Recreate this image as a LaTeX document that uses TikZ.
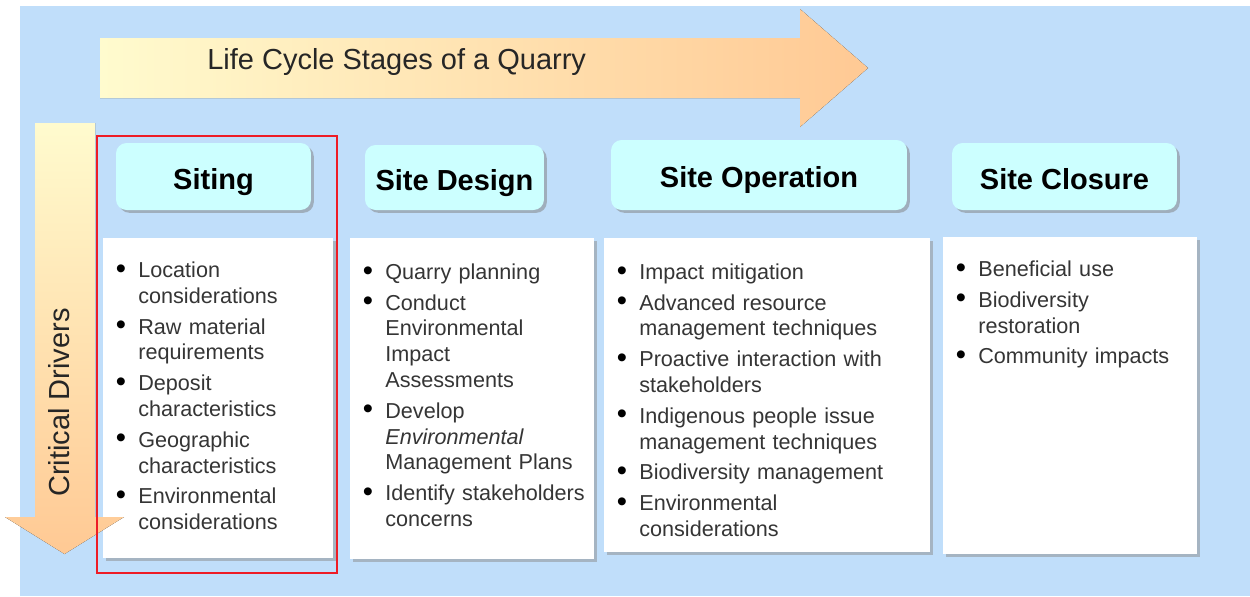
\documentclass[tikz,border=0pt]{standalone}
\usepackage{fontspec}
\setmainfont{Liberation Sans}
\usepackage{enumitem}
\usetikzlibrary{positioning,calc,shadows}

\definecolor{bgblue}{HTML}{C0DEFA}
\definecolor{headcyan}{HTML}{CCFFFF}
\definecolor{paleyellow}{HTML}{FFFBCE}
\definecolor{peach}{HTML}{FFC994}
\definecolor{itemgray}{HTML}{353535}
\definecolor{framered}{HTML}{EE1C25}

\newcommand{\stagelist}[1]{%
  \begin{itemize}[label={\color{black}\raisebox{-0.4pt}{\scalebox{1.35}{\textbullet}}},
    leftmargin=0.7cm,labelsep=7pt,itemsep=2.8pt,parsep=0pt,topsep=0pt,partopsep=0pt]#1\end{itemize}}

\begin{document}
\begin{tikzpicture}[x=0.02cm,y=-0.02cm,
  stagehead/.style={fill=headcyan,rounded corners=6pt,inner sep=0pt,
    font=\fontsize{16.5}{20}\selectfont\bfseries,text height=14.6pt,text depth=0pt,
    drop shadow={shadow xshift=1.6pt,shadow yshift=-1.6pt,fill=black!50}},
  stagebox/.style={fill=white,anchor=north west,inner sep=0pt,
    drop shadow={shadow xshift=1.6pt,shadow yshift=-1.6pt,fill=black!45}},
  stagetext/.style={anchor=north west,inner sep=0pt,text width=7cm,align=left,
    text=itemgray,font=\fontsize{12.3}{14.7}\selectfont}]
  \useasboundingbox (0,0) rectangle (1250,596);
  \fill[bgblue] (20,6) rectangle (1250,596);

  % stages arrow
  \fill[left color=paleyellow,right color=peach]
    (100,38) -- (800,38) -- (800,9) -- (868,68) -- (800,127) -- (800,98) -- (100,98) -- cycle;
  \node[anchor=base west,inner sep=0pt,font=\fontsize{16.5}{20}\selectfont,text=black!85]
    (lifecycle) at (207,69) {Life Cycle Stages of a Quarry};

  % headers
  \node[stagehead,minimum width=3.9cm,minimum height=1.34cm] (siting) at (213.5,176.5) {Siting};
  \node[stagehead,minimum width=3.58cm,minimum height=1.3cm] (design) at (454.5,177.5) {Site Design};
  \node[stagehead,minimum width=5.92cm,minimum height=1.4cm] (operation) at (759,175) {Site Operation};
  \node[stagehead,minimum width=4.5cm,minimum height=1.34cm] (closure) at (1064.5,176.5) {Site Closure};

  % drivers
  \node[stagebox,minimum width=4.6cm,minimum height=6.4cm] (sitingbox) at (103,238) {};
  \node[stagebox,minimum width=4.88cm,minimum height=6.42cm] (designbox) at (350,238) {};
  \node[stagebox,minimum width=6.52cm,minimum height=6.28cm] (operationbox) at (604,238) {};
  \node[stagebox,minimum width=5.08cm,minimum height=6.34cm] (closurebox) at (943,237) {};

  \node[stagetext] (sitinglist) at ([yshift=-7.6pt]sitingbox.north west) {\stagelist{%
    \item Location\newline considerations
    \item Raw material\newline requirements
    \item Deposit\newline characteristics
    \item Geographic\newline characteristics
    \item Environmental\newline considerations}};
  \node[stagetext] (designlist) at ([yshift=-8.6pt]designbox.north west) {\stagelist{%
    \item Quarry planning
    \item Conduct\newline Environmental\newline Impact\newline Assessments
    \item Develop\newline \textit{Environmental}\newline Management Plans
    \item Identify stakeholders\newline concerns}};
  \node[stagetext] (operationlist) at ([yshift=-8.6pt]operationbox.north west) {\stagelist{%
    \item Impact mitigation
    \item Advanced resource\newline management techniques
    \item Proactive interaction with\newline stakeholders
    \item Indigenous people issue\newline management techniques
    \item Biodiversity management
    \item Environmental\newline considerations}};
  \node[stagetext] (closurelist) at ([yshift=-7.6pt]closurebox.north west) {\stagelist{%
    \item Beneficial use
    \item Biodiversity\newline restoration
    \item Community impacts}};

  % critical drivers arrow
  \fill[top color=paleyellow,bottom color=peach]
    (35,123) -- (95,123) -- (95,517) -- (124,517) -- (64.5,554) -- (5,517) -- (35,517) -- cycle;
  \node[rotate=90,anchor=base west,inner sep=0pt,font=\fontsize{16.5}{20}\selectfont,text=black!85]
    (drivers) at (69,497) {Critical Drivers};

  \draw[framered,line width=1.2pt] (97,136) rectangle (337,573);
\end{tikzpicture}
\end{document}
